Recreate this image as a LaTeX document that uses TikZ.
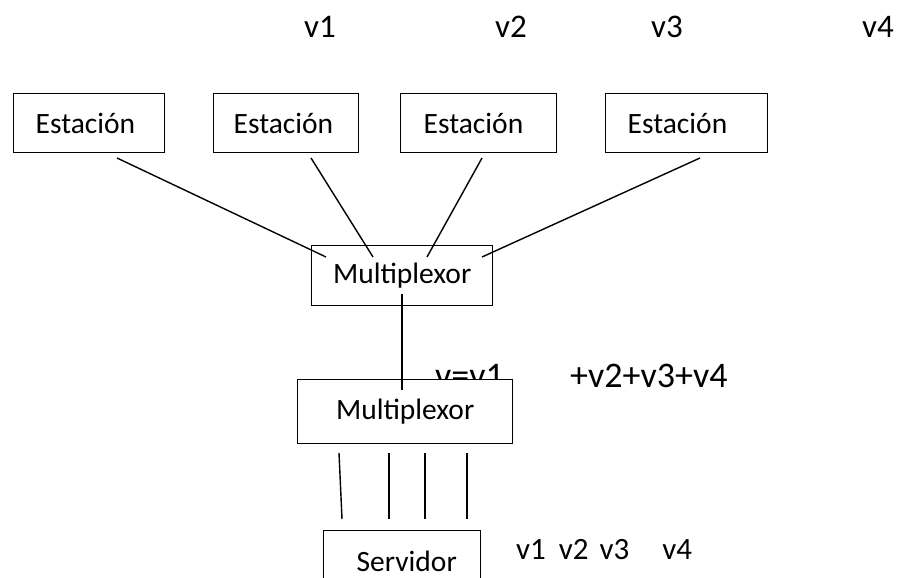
\documentclass[tikz,border=0pt]{standalone}
\usepackage{fontspec}
\setmainfont{Carlito}
\newcommand{\fs}{\fontsize{29.5}{34}\selectfont}
\newcommand{\fstop}{\fontsize{33}{38}\selectfont}
\newcommand{\fssum}{\fontsize{36}{42}\selectfont}
\begin{document}
\begin{tikzpicture}[x=1pt,y=-1pt,
  box/.style={draw, line width=1.4pt, fill=white, inner ysep=0pt, font=\fs, anchor=north west},
  lbl/.style={inner sep=0pt, anchor=base west, font=\fs},
  wire/.style={line width=1.4pt}]
\useasboundingbox (0,0) rectangle (902,578);
\clip (0,0) rectangle (902,578);
% top labels
\node[lbl, font=\fstop] (t1) at (304,38) {v1};
\node[lbl, font=\fstop] (t2) at (495,38) {v2};
\node[lbl, font=\fstop] (t3) at (651,38) {v3};
\node[lbl, font=\fstop] (t4) at (862,38) {v4};
% stations
\node[box, inner xsep=22pt, text width=107pt, align=left, minimum height=59pt] (s1) at (13,93) {Estación};
\node[box, inner xsep=20pt, text width=105pt, align=left, minimum height=59pt] (s2) at (213,93) {Estación};
\node[box, inner xsep=23pt, text width=110pt, align=left, minimum height=59pt] (s3) at (400,93) {Estación};
\node[box, inner xsep=22pt, text width=118pt, align=left, minimum height=59pt] (s4) at (605,93) {Estación};
% multiplexor 1
\node[box, minimum width=181pt, minimum height=60pt] (m1) at (311,245) {Multiplexor};
% connectors stations -> multiplexor
\coordinate (a1) at (117,158); \coordinate (b1) at (326,257);
\coordinate (a2) at (311,158); \coordinate (b2) at (373,257);
\coordinate (a3) at (482,158); \coordinate (b3) at (427,257);
\coordinate (a4) at (700,158); \coordinate (b4) at (482,257);
\draw[wire] (a1) -- (b1);
\draw[wire] (a2) -- (b2);
\draw[wire] (a3) -- (b3);
\draw[wire] (a4) -- (b4);
% sum label (partly hidden by the second box)
\node[lbl, font=\fssum] (sa) at (435,387) {v=v1};
\node[lbl, font=\fssum] (sb) at (570,387) {+v2+v3+v4};
% multiplexor 2
\node[box, minimum width=215pt, minimum height=64pt] (m2) at (297,379) {Multiplexor};
\coordinate (c1) at (402,294); \coordinate (c2) at (402,390);
\draw[wire] (c1) -- (c2);
% four lines to the server
\coordinate (d1) at (339,453); \coordinate (e1) at (342,519);
\coordinate (d2) at (389,453); \coordinate (e2) at (389,519);
\coordinate (d3) at (425,453); \coordinate (e3) at (425,519);
\coordinate (d4) at (467,453); \coordinate (e4) at (467,519);
\draw[wire] (d1) -- (e1);
\draw[wire] (d2) -- (e2);
\draw[wire] (d3) -- (e3);
\draw[wire] (d4) -- (e4);
% server
\node[box, minimum width=157pt, minimum height=62pt] (sv) at (323,530) {\hspace{9pt}Servidor};
\node[lbl, font=\fontsize{31}{36}\selectfont] (vs) at (516,559) {v1\hspace{13pt}v2\hspace{11pt}v3\hspace{33pt}v4};
\end{tikzpicture}
\end{document}
